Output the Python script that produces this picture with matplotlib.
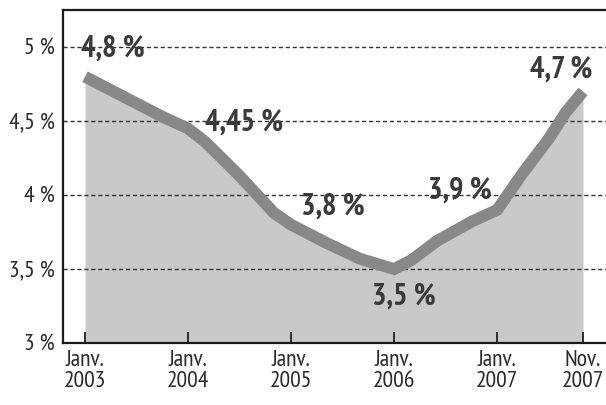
import matplotlib
matplotlib.use("Agg")
import matplotlib.pyplot as plt

# months since Jan 2003, rate
months = [0, 4, 9, 12, 14, 18, 22, 24, 28, 32, 36, 38, 41, 45, 48, 51, 54, 56, 58]
rates = [4.8, 4.68, 4.53, 4.45, 4.36, 4.13, 3.88, 3.8, 3.68, 3.57, 3.5, 3.56,
         3.69, 3.82, 3.9, 4.15, 4.38, 4.56, 4.7]

# labelled points
label_months = [0, 12, 24, 36, 48, 58]
label_values = [4.8, 4.45, 3.8, 3.5, 3.9, 4.7]
label_texts = ["4,8 %", "4,45 %", "3,8 %", "3,5 %", "3,9 %", "4,7 %"]
label_offsets = [(20, 20), (40, 4), (30, 13), (7, -20), (-27, 14), (-16, 16)]

xtick_pos = [0, 12, 24, 36, 48, 58]
xtick_labels = ["Janv.\n2003", "Janv.\n2004", "Janv.\n2005", "Janv.\n2006",
                "Janv.\n2007", "Nov.\n2007"]
ytick_pos = [3, 3.5, 4, 4.5, 5]
ytick_labels = ["3 %", "3,5 %", "4 %", "4,5 %", "5 %"]

FONT = ["PT Sans Narrow", "DejaVu Sans"]

fig = plt.figure(figsize=(6.06, 4.05), dpi=100)
ax = fig.add_axes([0.104, 0.153, 0.896, 0.822])

ax.fill_between(months, 3, rates, color="#c9c9c9", lw=0, zorder=1)
for y in ytick_pos[1:]:
    ax.axhline(y, color="#333333", lw=1, ls=(0, (3, 2)), zorder=1.5)
ax.plot(months, rates, color="#888888", lw=8.5, solid_capstyle="butt",
        solid_joinstyle="miter", zorder=2)

for m, v, t, off in zip(label_months, label_values, label_texts, label_offsets):
    ax.annotate(t, (m, v), xytext=off, textcoords="offset points",
                ha="center", va="center", fontsize=22, fontweight="bold",
                color="#3a3a3a", family=FONT, zorder=3)

ax.set_xlim(-2.56, 60.68)
ax.set_ylim(3, 5.25)

ax.set_xticks(xtick_pos)
ax.set_xticklabels(xtick_labels, family=FONT, fontsize=17, color="#2a2a2a",
                   linespacing=1.0)
ax.set_yticks(ytick_pos)
ax.set_yticklabels(ytick_labels, family=FONT, fontsize=17, color="#2a2a2a")
ax.tick_params(axis="x", direction="in", length=8, width=1.3, pad=5,
               color="#222222")
ax.tick_params(axis="y", length=0, pad=6)

for side in ["left", "top", "bottom"]:
    ax.spines[side].set_linewidth(1.6)
    ax.spines[side].set_color("#1a1a1a")
ax.spines["right"].set_visible(False)

fig.savefig("out.png", dpi=100, facecolor="white")
